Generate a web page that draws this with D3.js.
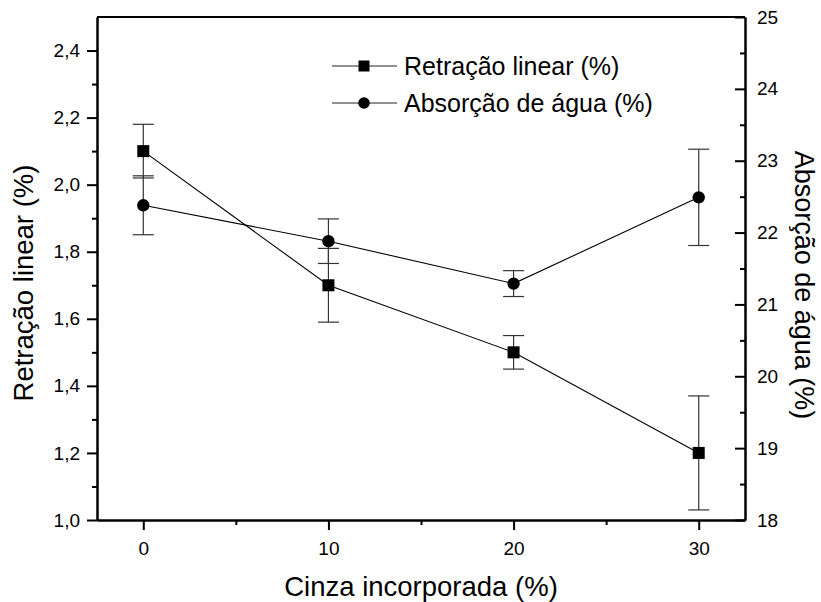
<!DOCTYPE html>
<html>
<head>
<meta charset="utf-8">
<script src="https://cdn.jsdelivr.net/npm/d3@7"></script>
<style>
  html, body { margin: 0; padding: 0; background: #fff; }
  svg text { font-family: "Liberation Sans", Arial, sans-serif; fill: #000; }
</style>
</head>
<body>
<svg id="chart" width="821" height="602"></svg>
<script>
// ---- data ----
const cinza = [0, 10, 20, 30];
const retracao = [2.10, 1.70, 1.50, 1.20];
const retracaoErr = [0.08, 0.11, 0.05, 0.17];
const absorcao = [22.38, 21.88, 21.29, 22.49];
const absorcaoErr = [0.41, 0.31, 0.18, 0.67];
const xTicks = [0, 10, 20, 30];
const xMinor = [5, 15, 25];
const yLTicks = [1.0, 1.2, 1.4, 1.6, 1.8, 2.0, 2.2, 2.4];
const yLMinor = [1.1, 1.3, 1.5, 1.7, 1.9, 2.1, 2.3];
const yRTicks = [18, 19, 20, 21, 22, 23, 24, 25];
const yRMinor = [18.5, 19.5, 20.5, 21.5, 22.5, 23.5, 24.5];
const seriesNames = ["Retração linear (%)", "Absorção de água (%)"];

// ---- layout ----
const L = 97, R = 745, T = 17, B = 520;
const svg = d3.select("#chart");
const x = d3.scaleLinear().domain([-2.5, 32.5]).range([L, R]);
const yL = d3.scaleLinear().domain([1.0, 2.5]).range([B, T]);
const yR = d3.scaleLinear().domain([18, 25]).range([B, T]);
const fmtL = v => d3.format(".1f")(v).replace(".", ",");

function styleAxis(g) {
  g.selectAll("path.domain").attr("stroke", "#000").attr("stroke-width", 2);
  g.selectAll(".tick line").attr("stroke", "#000").attr("stroke-width", 2);
  g.selectAll("text").attr("font-size", 19).attr("fill", "#000")
    .style("font-family", '"Liberation Sans", Arial, sans-serif');
}

// top border
svg.append("line").attr("x1", L).attr("x2", R).attr("y1", T).attr("y2", T)
  .attr("stroke", "#000").attr("stroke-width", 2);

// bottom axis
const gxm = svg.append("g").attr("transform", `translate(0,${B})`)
  .call(d3.axisBottom(x).tickValues(xMinor).tickSize(5).tickSizeOuter(0).tickFormat(""));
styleAxis(gxm);
const gx = svg.append("g").attr("transform", `translate(0,${B})`)
  .call(d3.axisBottom(x).tickValues(xTicks).tickSize(10).tickSizeOuter(0).tickPadding(12).tickFormat(d3.format("d")));
styleAxis(gx);

// left axis
const glm = svg.append("g").attr("transform", `translate(${L},0)`)
  .call(d3.axisLeft(yL).tickValues(yLMinor).tickSize(5).tickSizeOuter(0).tickFormat(""));
styleAxis(glm);
const gl = svg.append("g").attr("transform", `translate(${L},0)`)
  .call(d3.axisLeft(yL).tickValues(yLTicks).tickSize(10).tickSizeOuter(0).tickPadding(7).tickFormat(fmtL));
styleAxis(gl);

// right axis (ticks inward)
const grm = svg.append("g").attr("transform", `translate(${R},0)`)
  .call(d3.axisRight(yR).tickValues(yRMinor).tickSizeInner(-5).tickSizeOuter(0).tickFormat(""));
styleAxis(grm);
const gr = svg.append("g").attr("transform", `translate(${R},0)`)
  .call(d3.axisRight(yR).tickValues(yRTicks).tickSizeInner(-10).tickSizeOuter(0).tickPadding(12).tickFormat(d3.format("d")));
styleAxis(gr);

// axis titles
svg.append("text").attr("x", 421).attr("y", 596)
  .attr("text-anchor", "middle").attr("font-size", 27.5).text("Cinza incorporada (%)");
svg.append("text").attr("transform", "translate(33,283) rotate(-90)")
  .attr("text-anchor", "middle").attr("font-size", 27.5).text("Retração linear (%)");
svg.append("text").attr("transform", "translate(795,285) rotate(90)")
  .attr("text-anchor", "middle").attr("font-size", 27).text("Absorção de água (%)");

// error bars
function errorBars(vals, errs, scale) {
  const g = svg.append("g").attr("stroke", "#333").attr("stroke-width", 1.2);
  cinza.forEach((c, i) => {
    const cx = x(c), y1 = scale(vals[i] + errs[i]), y2 = scale(vals[i] - errs[i]);
    g.append("line").attr("x1", cx).attr("x2", cx).attr("y1", y1).attr("y2", y2);
    g.append("line").attr("x1", cx - 10.5).attr("x2", cx + 10.5).attr("y1", y1).attr("y2", y1);
    g.append("line").attr("x1", cx - 10.5).attr("x2", cx + 10.5).attr("y1", y2).attr("y2", y2);
  });
}
errorBars(retracao, retracaoErr, yL);
errorBars(absorcao, absorcaoErr, yR);

// lines
const lineL = d3.line().x((d, i) => x(cinza[i])).y(d => yL(d));
const lineR = d3.line().x((d, i) => x(cinza[i])).y(d => yR(d));
svg.append("path").datum(retracao).attr("d", lineL).attr("fill", "none").attr("stroke", "#000").attr("stroke-width", 1.1);
svg.append("path").datum(absorcao).attr("d", lineR).attr("fill", "none").attr("stroke", "#000").attr("stroke-width", 1.1);

// markers
const sq = 12;
svg.append("g").selectAll("rect").data(retracao).join("rect")
  .attr("x", (d, i) => x(cinza[i]) - sq / 2).attr("y", d => yL(d) - sq / 2)
  .attr("width", sq).attr("height", sq).attr("fill", "#000");
svg.append("g").selectAll("circle").data(absorcao).join("circle")
  .attr("cx", (d, i) => x(cinza[i])).attr("cy", d => yR(d)).attr("r", 6.2).attr("fill", "#000");

// legend
const legY = [66, 103];
const lg = svg.append("g");
legY.forEach((ly, i) => {
  lg.append("line").attr("x1", 332).attr("x2", 397).attr("y1", ly).attr("y2", ly)
    .attr("stroke", "#222").attr("stroke-width", 1);
  if (i === 0) {
    lg.append("rect").attr("x", 364 - 5.5).attr("y", ly - 5.5).attr("width", 11).attr("height", 11).attr("fill", "#000");
  } else {
    lg.append("circle").attr("cx", 364).attr("cy", ly).attr("r", 5.8).attr("fill", "#000");
  }
  lg.append("text").attr("x", 404).attr("y", ly).attr("dy", "0.36em")
    .attr("font-size", 25).text(seriesNames[i]);
});
</script>
</body>
</html>
